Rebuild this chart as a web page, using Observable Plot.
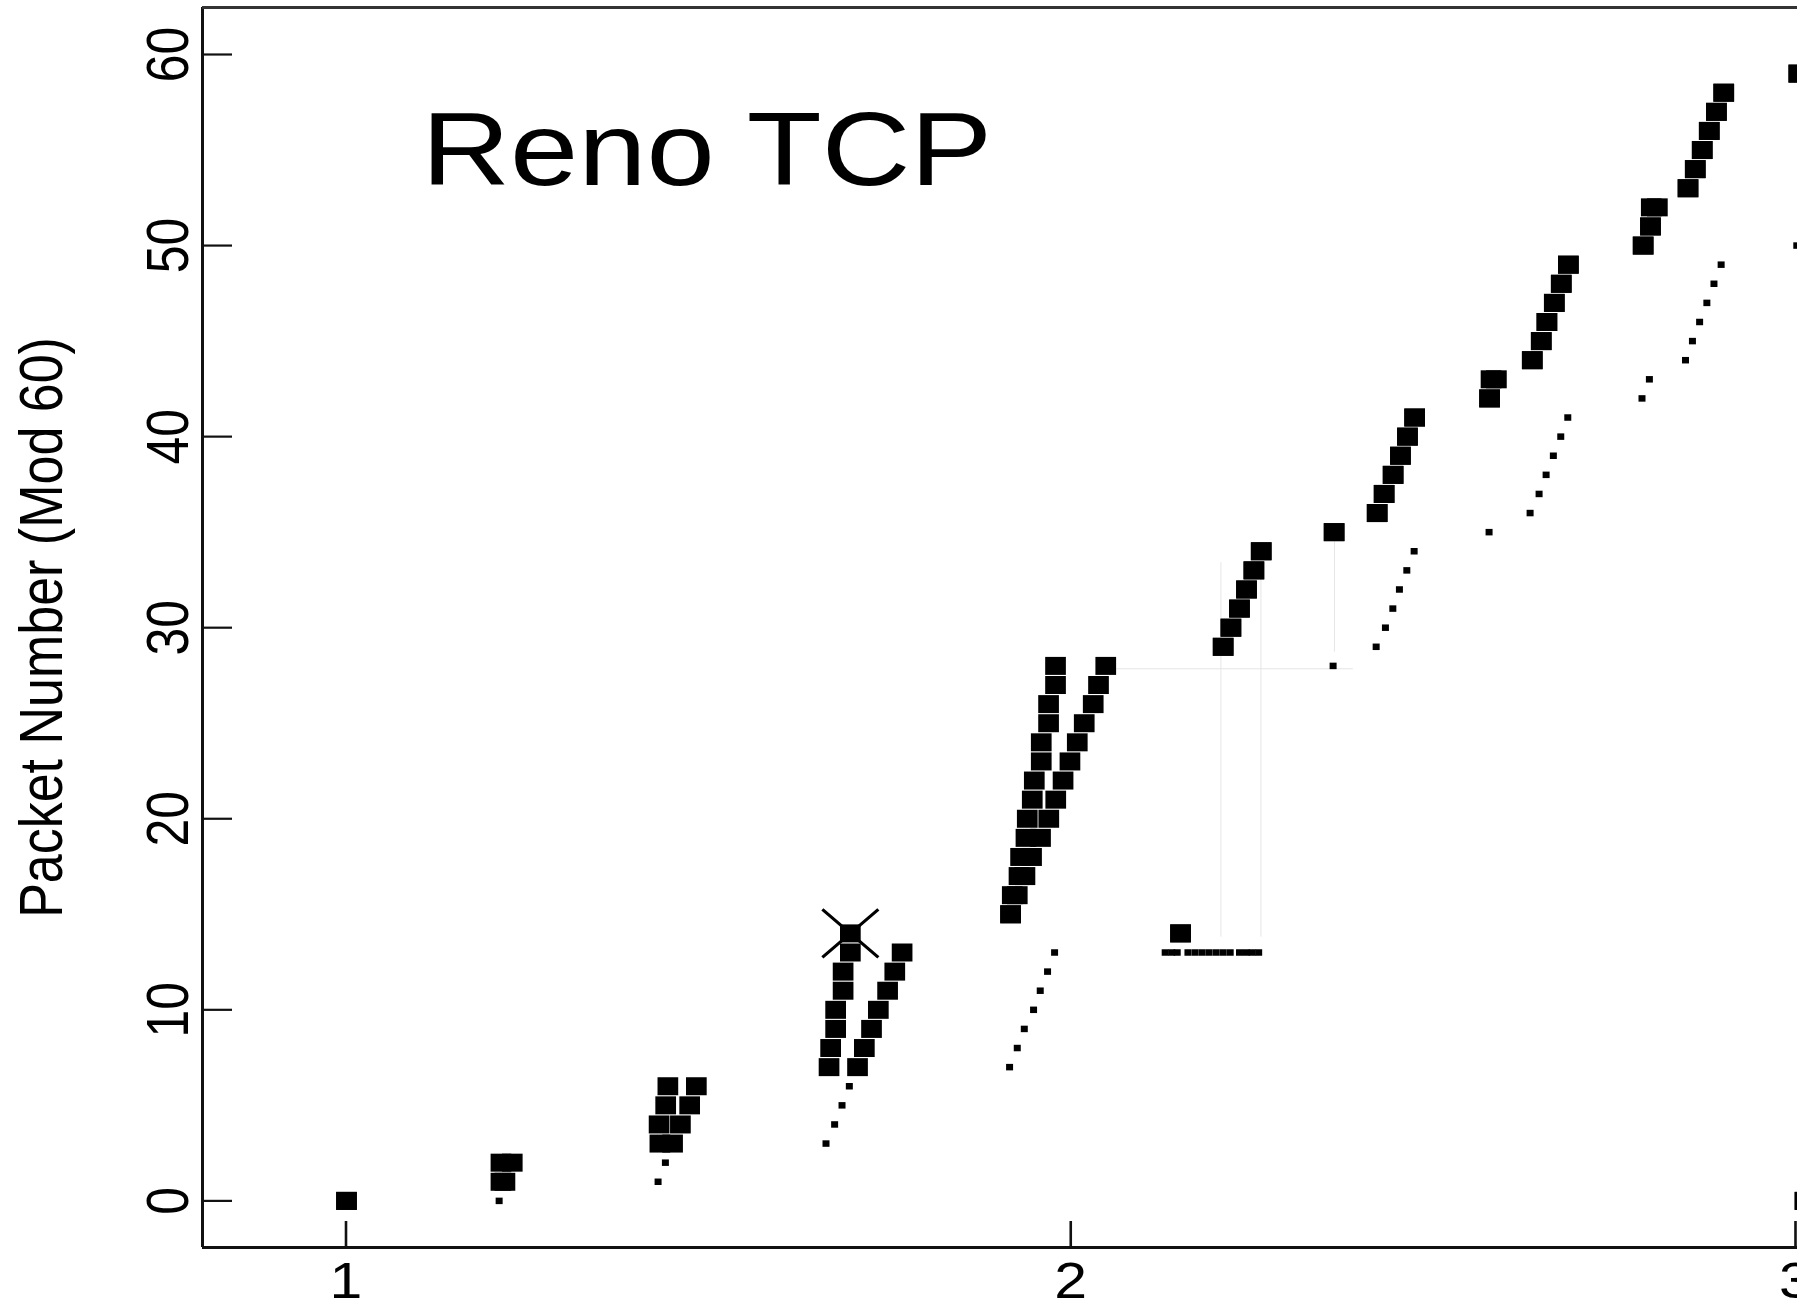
<!DOCTYPE html>
<html>
<head>
<meta charset="utf-8">
<script src="https://cdn.jsdelivr.net/npm/d3@7"></script>
<script src="https://cdn.jsdelivr.net/npm/@observablehq/plot@0.6"></script>
<style>
  html, body { margin: 0; padding: 0; background: #fff; }
  #chart svg { display: block; }
</style>
</head>
<body>
<div id="chart"></div>
<script>
// Reno TCP trace: packets at the gateway and acks at the source, packet number mod 60
const titleText = "Reno TCP";
const yLabel = "Packet Number (Mod 60)";
const xTicks = [1, 2, 3];
const yTicks = [0, 10, 20, 30, 40, 50, 60];

// Packets (packet number, arrival time, departure time in s); null departure = dropped
const pktNum = [
  0, 1, 2, 3, 4, 5, 6, 7, 8, 9, 10, 11, 12, 13, 14,
  15, 16, 17, 18, 19, 20, 21, 22, 23, 24, 25, 26, 27, 28,
  14, 29, 30, 31, 32, 33, 34, 35, 36, 37, 38, 39, 40, 41,
  42, 43, 44, 45, 46, 47, 48, 49, 50, 51, 52, 53, 54, 55, 56, 57, 58, 59, 60
];
const pktArrive = [
  1.0007, 1.2138, 1.2138, 1.4331, 1.4320, 1.4411, 1.4441, 1.6665, 1.6687, 1.6756, 1.6756, 1.6859, 1.6859, 1.6959, 1.6959,
  1.9170, 1.9193, 1.9286, 1.9308, 1.9382, 1.9400, 1.9469, 1.9497, 1.9593, 1.9593, 1.9694, 1.9694, 1.9790, 1.9790,
  2.1515, 2.2103, 2.2210, 2.2328, 2.2425, 2.2527, 2.2628, 2.3634, 2.4228, 2.4324, 2.4448, 2.4549, 2.4646, 2.4745,
  2.5779, 2.5799, 2.6368, 2.6492, 2.6570, 2.6672, 2.6768, 2.6866, 2.7898, 2.7999, 2.8010, 2.8517, 2.8617, 2.8713, 2.8810, 2.8909, 2.9010, 3.0046, 3.0131
];
const pktDepart = [
  1.0007, 1.2193, 1.2294, 1.4506, 1.4614, 1.4742, 1.4834, 1.7058, 1.7152, 1.7251, 1.7345, 1.7473, 1.7572, 1.7673, null,
  1.9170, 1.9262, 1.9368, 1.9459, 1.9583, 1.9697, 1.9793, 1.9894, 1.9989, 2.0090, 2.0186, 2.0310, 2.0383, 2.0483,
  2.1515, 2.2103, 2.2210, 2.2328, 2.2425, 2.2527, 2.2628, 2.3634, 2.4228, 2.4324, 2.4448, 2.4549, 2.4646, 2.4745,
  2.5779, 2.5873, 2.6368, 2.6492, 2.6570, 2.6672, 2.6768, 2.6866, 2.7898, 2.7999, 2.8094, 2.8517, 2.8617, 2.8713, 2.8810, 2.8909, 2.9010, 3.0046, 3.0131
];

// Dropped packets
const dropNum = [14];
const dropTime = [1.6959];

// Acks received at the source (ack number, time in s)
const ackNum = [
  0, 1, 2, 3, 4, 5, 6, 7, 8, 9, 10, 11, 12, 13,
  13, 13, 13, 13, 13, 13, 13, 13, 13, 13, 13, 13, 13, 13,
  28, 29, 30, 31, 32, 33, 34, 35, 36, 37, 38, 39, 40, 41,
  42, 43, 44, 45, 46, 47, 48, 49, 50
];
const ackTime = [
  1.2113, 1.4306, 1.4407, 1.6623, 1.6742, 1.6844, 1.6945, 1.9156, 1.9262, 1.9359, 1.9487, 1.9579, 1.9680, 1.9777,
  2.1303, 2.1393, 2.1469, 2.1617, 2.1715, 2.1812, 2.1908, 2.2006, 2.2103, 2.2200, 2.2328, 2.2421, 2.2503, 2.2593,
  2.3620, 2.4214, 2.4342, 2.4444, 2.4535, 2.4637, 2.4738, 2.5772, 2.6338, 2.6462, 2.6559, 2.6659, 2.6761, 2.6858,
  2.7882, 2.7984, 2.8482, 2.8578, 2.8677, 2.8777, 2.8875, 2.8974, 3.0018
];

// Faint trace guides around fast recovery
const guideH = [{y: 27.85, t1: 2.062, t2: 2.390}];
const guideV = [
  {t: 2.2072, y1: 13.8, y2: 33.4},
  {t: 2.2624, y1: 13.8, y2: 33.4},
  {t: 2.3639, y1: 28.72, y2: 34.5}
];

// Tables for the marks
const squares = [];
pktNum.forEach((n, i) => {
  squares.push({t: pktArrive[i], seq: n % 60});
  if (pktDepart[i] != null) squares.push({t: pktDepart[i], seq: n % 60});
});
const acks = ackNum.map((n, i) => ({t: ackTime[i], seq: n % 60}));
const drops = dropNum.map((n, i) => ({t: dropTime[i], seq: n % 60}));

// Rectangular and cross symbols (sizes in px at r = 10)
const box = (w, h) => ({
  draw(ctx, size) {
    const k = Math.sqrt(size / Math.PI) / 10;
    ctx.rect(-w * k / 2, -h * k / 2, w * k, h * k);
  }
});
const cross = (w, h) => ({
  draw(ctx, size) {
    const k = Math.sqrt(size / Math.PI) / 10, a = w * k / 2, b = h * k / 2;
    ctx.moveTo(-a, -b); ctx.lineTo(a, b);
    ctx.moveTo(-a, b); ctx.lineTo(a, -b);
  }
});

const W = 1797, H = 1311;
const mL = 202, mR = 2, mT = 7, mB = 64;
const plotW = W - mL - mR, plotH = H - mT - mB;
const xDomain = [0.802, 3.0];
const yDomain = [-2.44, 62.46];

const chart = Plot.plot({
  width: W,
  height: H,
  marginLeft: mL,
  marginRight: mR,
  marginTop: mT,
  marginBottom: mB,
  x: {domain: xDomain},
  y: {domain: yDomain},
  style: {
    fontFamily: "'Liberation Sans', Arial, Helvetica, sans-serif",
    fontSize: "50px",
    color: "#000",
    background: "#fff",
    overflow: "hidden"
  },
  marks: [
    Plot.ruleY(guideH, {y: "y", x1: "t1", x2: "t2", stroke: "#e6e6e6", strokeWidth: 1}),
    Plot.ruleX(guideV, {x: "t", y1: "y1", y2: "y2", stroke: "#e6e6e6", strokeWidth: 1}),
    Plot.dot(squares, {x: "t", y: "seq", r: 10, symbol: box(20.7, 18), fill: "#000", stroke: "none"}),
    Plot.dot(acks, {x: "t", y: "seq", r: 10, symbol: box(7, 6.5), fill: "#000", stroke: "none"}),
    Plot.dot(drops, {x: "t", y: "seq", r: 10, symbol: cross(56, 48), fill: "none", stroke: "#000", strokeWidth: 3.2}),
    // frame: left, top and bottom sides
    Plot.ruleX([xDomain[0]], {stroke: "#111", strokeWidth: 3}),
    Plot.ruleY([yDomain[1]], {stroke: "#333", strokeWidth: 3, insetRight: -2}),
    Plot.ruleY([yDomain[0]], {stroke: "#111", strokeWidth: 3, insetRight: -2}),
    // inward ticks
    Plot.ruleY(yTicks, {insetRight: plotW - 30, stroke: "#111", strokeWidth: 2.2}),
    Plot.ruleX(xTicks, {insetTop: plotH - 26, stroke: "#111", strokeWidth: 2.6}),
    Plot.axisX(xTicks, {tickSize: 0, tickPadding: 15, tickFormat: "d", fontSize: 50, label: null}),
    Plot.axisY(yTicks, {tickSize: 0, tickPadding: 14.5, tickRotate: -90, tickFormat: "d", fontSize: 50, label: null}),
    Plot.text([yLabel], {frameAnchor: "left", dx: -141, rotate: -90, textAnchor: "middle", lineAnchor: "bottom", fontSize: 52, fill: "#000"}),
    Plot.text([titleText], {frameAnchor: "top-left", dx: 219, dy: 177.3, textAnchor: "start", lineAnchor: "bottom", fontSize: 104, fill: "#000"})
  ]
});

document.getElementById("chart").appendChild(chart);

// Widen the lettering slightly (horizontal on screen) about each text anchor
const stretch = 1.18;
chart.querySelectorAll("text").forEach(el => {
  const tr = el.getAttribute("transform");
  if (tr) {
    const rotated = /rotate\(/.test(tr);
    el.setAttribute("transform", `${tr} scale(${rotated ? `1,${stretch}` : `${stretch},1`})`);
  } else {
    const x = parseFloat(el.getAttribute("x")) || 0;
    const y = parseFloat(el.getAttribute("y")) || 0;
    el.setAttribute("transform", `translate(${x},${y}) scale(${stretch},1) translate(${-x},${-y})`);
  }
});
</script>
</body>
</html>
